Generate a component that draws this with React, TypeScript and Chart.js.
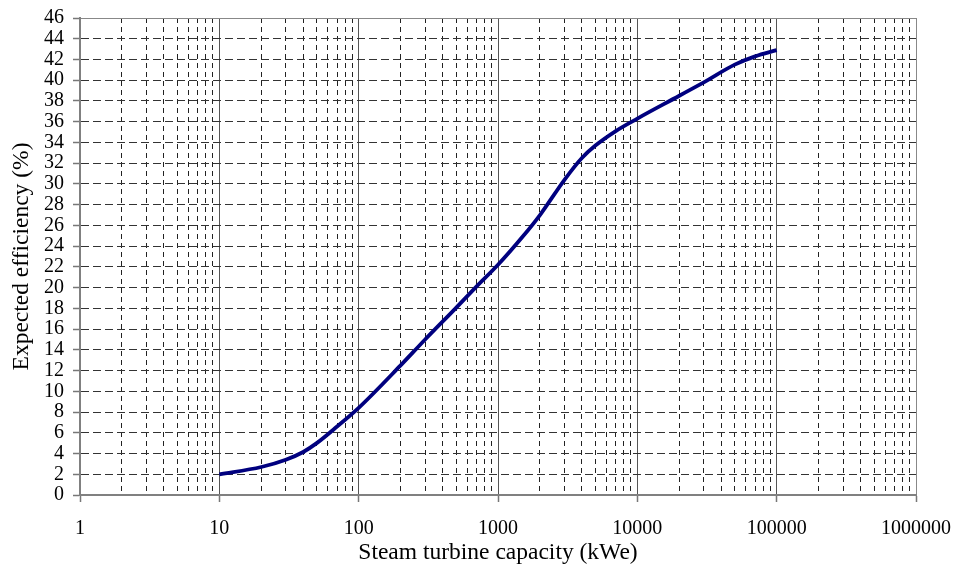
import React, { useEffect, useRef } from 'react';
import { Chart, registerables } from 'chart.js';

Chart.register(...registerables);

// Data
const capacityKWe = [10, 20, 30, 40, 50, 70, 100, 200, 300, 500, 700, 1000, 1500, 2000, 3000, 4000, 5000, 7000, 10000, 20000, 30000, 50000, 70000, 100000];
const efficiencyPct = [2.0, 2.7, 3.4, 4.15, 5.0, 6.6, 8.4, 12.5, 15.0, 18.05, 20.1, 22.2, 24.9, 27.0, 30.4, 32.5, 33.7, 35.1, 36.3, 38.5, 39.8, 41.5, 42.3, 42.9];

const xMajorTicks = [1, 10, 100, 1000, 10000, 100000, 1000000];
const xTickLabels = ['1', '10', '100', '1000', '10000', '100000', '1000000'];
const xMinorMultipliers = [2, 3, 4, 5, 6, 7, 8, 9];

const xTitle = 'Steam turbine capacity (kWe)';
const yTitle = 'Expected efficiency (%)';

const FONT = "'Liberation Serif', 'Times New Roman', serif";

const isMajor = (v: number) => xMajorTicks.indexOf(v) >= 0;

export default function App() {
  const ref = useRef<HTMLCanvasElement | null>(null);

  useEffect(() => {
    document.body.style.margin = '0';
    const canvas = ref.current;
    if (!canvas) return;
    const chart = new Chart(canvas, {
      type: 'line',
      data: {
        datasets: [
          {
            data: capacityKWe.map((x, i) => ({ x, y: efficiencyPct[i] })),
            borderColor: '#00007f',
            borderWidth: 3.8,
            pointRadius: 0,
            fill: false,
            cubicInterpolationMode: 'monotone',
          },
        ],
      },
      options: {
        animation: false,
        responsive: false,
        devicePixelRatio: 1,
        layout: { padding: { top: 18, right: 38, left: 0, bottom: 0 } },
        plugins: { legend: { display: false }, tooltip: { enabled: false } },
        scales: {
          x: {
            type: 'logarithmic',
            min: 1,
            max: 1000000,
            afterBuildTicks: (scale: any) => {
              const ticks: { value: number; major?: boolean }[] = [];
              xMajorTicks.forEach((m, i) => {
                ticks.push({ value: m, major: true });
                if (i < xMajorTicks.length - 1) {
                  xMinorMultipliers.forEach((k) => ticks.push({ value: m * k }));
                }
              });
              scale.ticks = ticks;
            },
            afterFit: (scale: any) => {
              scale.height = 75;
              scale.paddingLeft = 0;
              scale.paddingRight = 0;
            },
            ticks: {
              autoSkip: false,
              maxRotation: 0,
              minRotation: 0,
              padding: 15,
              color: '#000',
              font: { family: FONT, size: 20 },
              callback: (value: any) => {
                const idx = xMajorTicks.indexOf(Number(value));
                return idx >= 0 ? xTickLabels[idx] : '';
              },
            },
            grid: {
              lineWidth: 1,
              tickLength: 7,
              tickWidth: 1.5,
              tickBorderDash: [],
              color: (ctx: any) => {
                const v = ctx.tick ? ctx.tick.value : 0;
                if (v === 1000000 || v === 1) return '#888';
                return isMajor(v) ? '#555' : '#222';
              },
              tickColor: (ctx: any) => {
                const v = ctx.tick ? ctx.tick.value : 0;
                return isMajor(v) ? '#777' : 'rgba(0,0,0,0)';
              },
            },
            border: {
              display: true,
              color: '#808080',
              width: 2,
              dash: (ctx: any) => {
                const v = ctx.tick ? ctx.tick.value : 1;
                return isMajor(v) ? [] : [5, 4];
              },
            },
            title: {
              display: true,
              text: xTitle,
              color: '#000',
              font: { family: FONT, size: 23.5 },
              padding: { top: 0, bottom: 3 },
            },
          },
          y: {
            type: 'linear',
            min: 0,
            max: 46,
            afterFit: (scale: any) => {
              scale.width = 80;
              scale.paddingTop = 0;
              scale.paddingBottom = 0;
            },
            ticks: {
              stepSize: 2,
              autoSkip: false,
              padding: 9,
              color: '#000',
              font: { family: FONT, size: 20 },
            },
            grid: {
              lineWidth: 1,
              tickLength: 7,
              tickWidth: 1.5,
              tickBorderDash: [],
              color: (ctx: any) => {
                const v = ctx.tick ? ctx.tick.value : 0;
                if (v === 46) return '#888';
                if (v === 0) return '#808080';
                return '#333';
              },
              tickColor: '#777',
            },
            border: {
              display: true,
              color: '#808080',
              width: 2,
              dash: (ctx: any) => {
                const v = ctx.tick ? ctx.tick.value : 0;
                return v === 46 || v === 0 ? [] : [8, 4];
              },
            },
            title: {
              display: true,
              text: yTitle,
              color: '#000',
              font: { family: FONT, size: 23.5 },
              padding: { top: 8, bottom: 0 },
            },
          },
        },
      },
    });
    return () => chart.destroy();
  }, []);

  return (
    <div style={{ position: 'absolute', left: 0, top: 0, width: 954, height: 570, background: '#fff' }}>
      <canvas ref={ref} width={954} height={570} style={{ width: 954, height: 570 }} />
    </div>
  );
}
